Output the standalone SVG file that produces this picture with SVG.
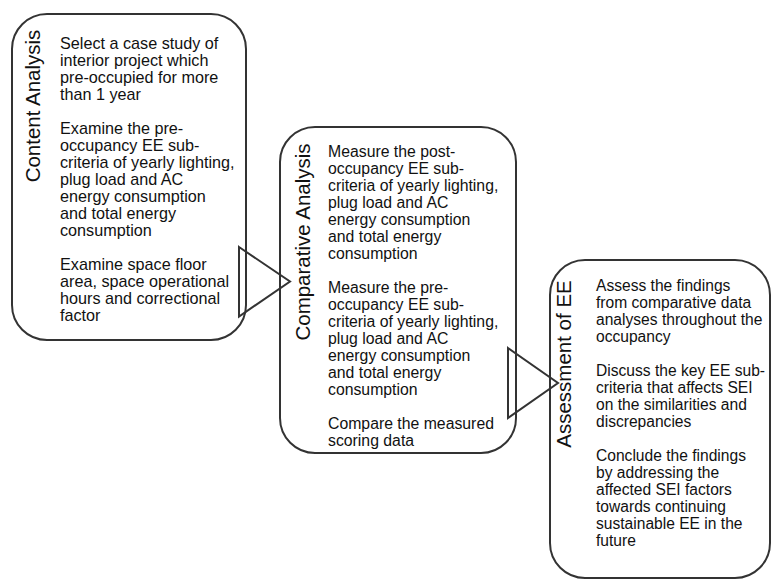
<svg xmlns="http://www.w3.org/2000/svg" width="771" height="579" viewBox="0 0 771 579">
<style>
.box{fill:#fff;stroke:#333;stroke-width:2}
.arr{fill:none;stroke:#333;stroke-width:2;stroke-linejoin:miter}
.t{font-family:"Liberation Sans",Arial,sans-serif;font-size:15.8px;fill:#111}
.h{font-family:"Liberation Sans",Arial,sans-serif;font-size:20.5px;fill:#111;text-anchor:middle}
</style>
<rect width="771" height="579" fill="#fff"/>
<g id="node-content-analysis">
<rect class="box" x="12" y="14" width="234" height="326" rx="35"/>
<text class="h" transform="translate(40,106) rotate(-90)">Content Analysis</text>
<text class="t" style="font-size:16.2px">
<tspan x="60" y="49">Select a case study of</tspan>
<tspan x="60" dy="17">interior project which</tspan>
<tspan x="60" dy="17">pre-occupied for more</tspan>
<tspan x="60" dy="17">than 1 year</tspan>
<tspan x="60" dy="34">Examine the pre-</tspan>
<tspan x="60" dy="17">occupancy EE sub-</tspan>
<tspan x="60" dy="17">criteria of yearly lighting,</tspan>
<tspan x="60" dy="17">plug load and AC</tspan>
<tspan x="60" dy="17">energy consumption</tspan>
<tspan x="60" dy="17">and total energy</tspan>
<tspan x="60" dy="17">consumption</tspan>
<tspan x="60" dy="34">Examine space floor</tspan>
<tspan x="60" dy="17">area, space operational</tspan>
<tspan x="60" dy="17">hours and correctional</tspan>
<tspan x="60" dy="17">factor</tspan>
</text>
</g>
<g id="node-comparative-analysis">
<rect class="box" x="280" y="127" width="236" height="326" rx="35"/>
<text class="h" transform="translate(310,242) rotate(-90)">Comparative Analysis</text>
<text class="t">
<tspan x="328" y="157">Measure the post-</tspan>
<tspan x="328" dy="17">occupancy EE sub-</tspan>
<tspan x="328" dy="17">criteria of yearly lighting,</tspan>
<tspan x="328" dy="17">plug load and AC</tspan>
<tspan x="328" dy="17">energy consumption</tspan>
<tspan x="328" dy="17">and total energy</tspan>
<tspan x="328" dy="17">consumption</tspan>
<tspan x="328" dy="34">Measure the pre-</tspan>
<tspan x="328" dy="17">occupancy EE sub-</tspan>
<tspan x="328" dy="17">criteria of yearly lighting,</tspan>
<tspan x="328" dy="17">plug load and AC</tspan>
<tspan x="328" dy="17">energy consumption</tspan>
<tspan x="328" dy="17">and total energy</tspan>
<tspan x="328" dy="17">consumption</tspan>
<tspan x="328" dy="34">Compare the measured</tspan>
<tspan x="328" dy="17">scoring data</tspan>
</text>
</g>
<g id="node-assessment-of-ee">
<rect class="box" x="550" y="260" width="220" height="318" rx="35"/>
<text class="h" transform="translate(571,364) rotate(-90)">Assessment of EE</text>
<text class="t" style="font-size:15.6px">
<tspan x="596" y="291">Assess the findings</tspan>
<tspan x="596" dy="17">from comparative data</tspan>
<tspan x="596" dy="17">analyses throughout the</tspan>
<tspan x="596" dy="17">occupancy</tspan>
<tspan x="596" dy="34">Discuss the key EE sub-</tspan>
<tspan x="596" dy="17">criteria that affects SEI</tspan>
<tspan x="596" dy="17">on the similarities and</tspan>
<tspan x="596" dy="17">discrepancies</tspan>
<tspan x="596" dy="34">Conclude the findings</tspan>
<tspan x="596" dy="17">by addressing the</tspan>
<tspan x="596" dy="17">affected SEI factors</tspan>
<tspan x="596" dy="17">towards continuing</tspan>
<tspan x="596" dy="17">sustainable EE in the</tspan>
<tspan x="596" dy="17">future</tspan>
</text>
</g>
<g id="connectors">
<path class="arr" d="M239,247 L290,281.5 L239,316.5 Z"/>
<path class="arr" d="M508,348 L558,383 L508,418 Z"/>
</g>
</svg>
